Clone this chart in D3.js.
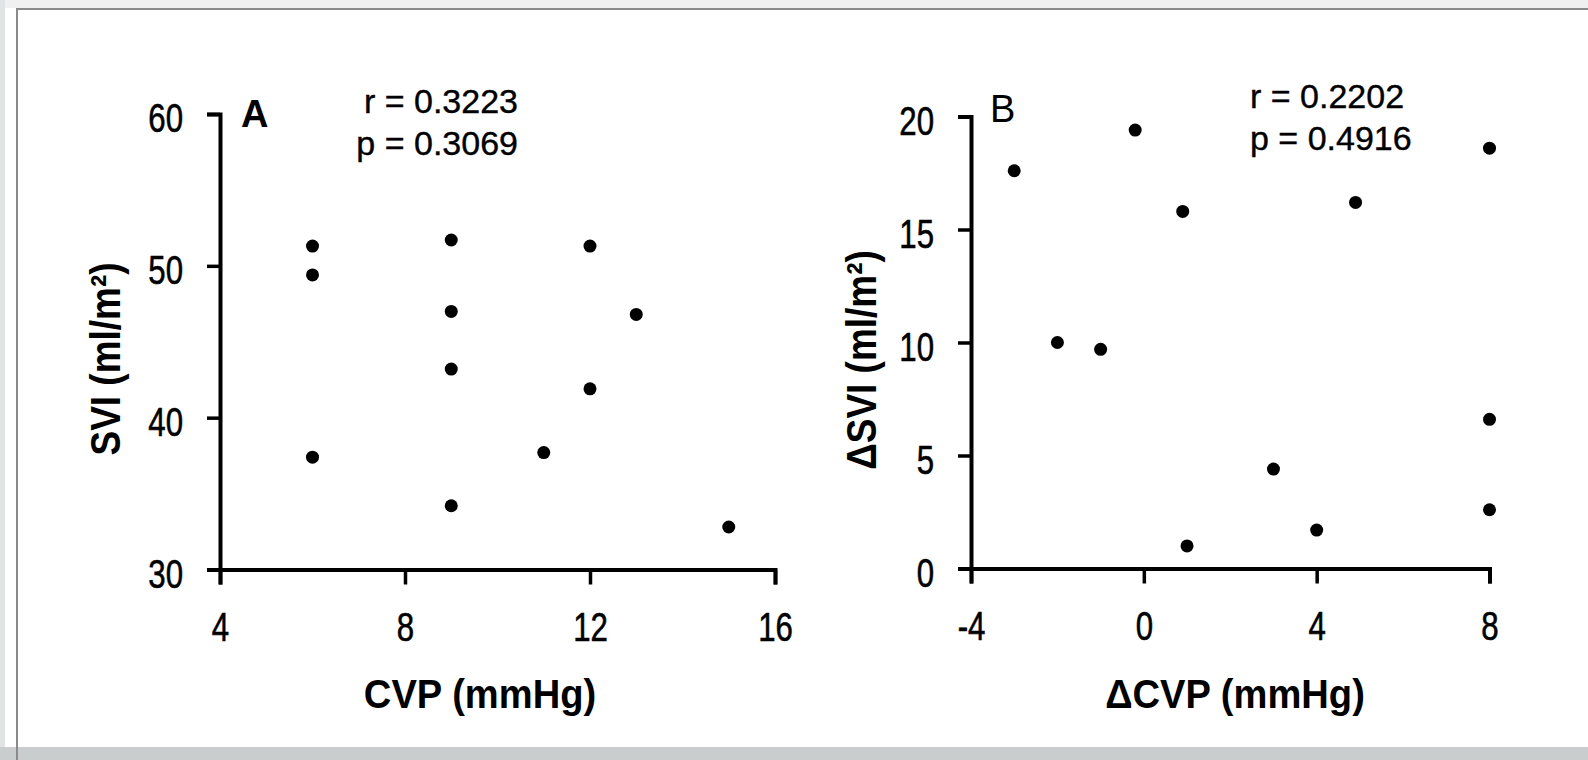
<!DOCTYPE html>
<html>
<head>
<meta charset="utf-8">
<script src="https://cdn.jsdelivr.net/npm/d3@7"></script>
<style>
  body { margin: 0; background: #fff; }
  svg { display: block; }
  text { font-family: "Liberation Sans", Arial, sans-serif; fill: #000; }
</style>
</head>
<body>
<svg id="chart" width="1588" height="760"></svg>
<script>
// panel A: CVP vs SVI
const cvpA = [6, 6, 6, 9, 9, 9, 9, 11, 12, 12, 13, 15]
const sviA = [51.3, 49.4, 37.4, 51.7, 47.0, 43.2, 34.2, 37.7, 51.3, 41.9, 46.8, 32.8]
const ticksAx = [4, 8, 12, 16]
const ticksAy = [30, 40, 50, 60]
const statsA = ["r = 0.3223", "p = 0.3069"]

// panel B: change in CVP vs change in SVI
const dCvpB = [-3, -0.2, 8, 0.9, 4.9, -2, -1, 8, 3, 4, 1, 8]
const dSviB = [17.6, 19.4, 18.6, 15.8, 16.2, 10.0, 9.7, 6.6, 4.4, 1.7, 1.0, 2.6]
const ticksBx = [-4, 0, 4, 8]
const ticksBy = [0, 5, 10, 15, 20]
const statsB = ["r = 0.2202", "p = 0.4916"]

const svg = d3.select("#chart")

// page frame (grey strips + border line)
svg.append("rect").attr("width", 1588).attr("height", 760).attr("fill", "#fff")
svg.append("rect").attr("width", 1588).attr("height", 8).attr("fill", "#f0f0f0")
svg.append("rect").attr("width", 5).attr("height", 760).attr("fill", "#e1e4e6")
svg.append("rect").attr("y", 747).attr("width", 1588).attr("height", 13).attr("fill", "#c9cdcd")
svg.append("rect").attr("x", 16).attr("y", 8).attr("width", 1572).attr("height", 2).attr("fill", "#8a8a8a")
svg.append("rect").attr("x", 16).attr("y", 8).attr("width", 2).attr("height", 752).attr("fill", "#8a8a8a")

const squeeze = 0.78  // tick labels are a narrow face

function drawPanel(p) {
  const g = svg.append("g")
  const x = d3.scaleLinear().domain(p.xDomain).range([p.left, p.right])
  const y = d3.scaleLinear().domain(p.yDomain).range([p.bottom, p.top])

  const xAxis = g.append("g")
    .attr("transform", `translate(0,${p.bottom})`)
    .call(d3.axisBottom(x).tickValues(p.xTicks).tickSize(15).tickSizeOuter(15)
      .tickFormat(d => String(d)))
  const yAxis = g.append("g")
    .attr("transform", `translate(${p.left},0)`)
    .call(d3.axisLeft(y).tickValues(p.yTicks).tickSize(13).tickSizeOuter(13)
      .tickFormat(d => String(d)))

  g.selectAll(".domain").attr("stroke", "#000").attr("stroke-width", 4).attr("fill", "none")
  g.selectAll(".tick line").attr("stroke", "#000").attr("stroke-width", 3.5)
  g.selectAll(".tick text").attr("font-size", 40).attr("fill", "#000")
    .attr("font-family", "'Liberation Sans', Arial, sans-serif")
    .attr("stroke", "#000").attr("stroke-width", 0.6)
    .attr("transform", `scale(${squeeze},1)`)
  xAxis.selectAll(".tick text").attr("y", 72).attr("dy", 0)
  yAxis.selectAll(".tick text").attr("x", -37 / squeeze).attr("dy", "0.44em")

  g.selectAll("circle.dot")
    .data(d3.zip(p.xs, p.ys))
    .enter()
    .append("circle")
    .attr("class", "dot")
    .attr("cx", d => x(d[0]))
    .attr("cy", d => y(d[1]))
    .attr("r", 6.5)
    .attr("fill", "#000")

  // panel letter
  g.append("text").attr("x", p.letterX).attr("y", p.letterY)
    .attr("font-size", 38).attr("font-weight", p.letterWeight).text(p.letter)

  // r / p
  g.selectAll("text.stat")
    .data(p.stats)
    .enter()
    .append("text")
    .attr("class", "stat")
    .attr("x", p.statX)
    .attr("y", (d, i) => p.statY + i * 42)
    .attr("text-anchor", p.statAnchor)
    .attr("font-size", 34)
    .attr("stroke", "#000").attr("stroke-width", 0.4)
    .text(d => d)

  // axis titles (narrowish bold)
  g.append("text")
    .attr("transform", `translate(${p.xTitleX},708) scale(0.93,1)`)
    .attr("text-anchor", "middle").attr("font-size", 41).attr("font-weight", "bold")
    .text(p.xTitle)
  g.append("text")
    .attr("transform", `translate(${p.yTitleX},${p.yTitleY}) rotate(-90) scale(0.88,1)`)
    .attr("text-anchor", "middle").attr("font-size", 42).attr("font-weight", "bold")
    .text(p.yTitle)
}

drawPanel({
  xs: cvpA, ys: sviA, xDomain: [4, 16], yDomain: [30, 60],
  xTicks: ticksAx, yTicks: ticksAy,
  left: 220, right: 775, top: 114, bottom: 569.5,
  letter: "A", letterX: 241, letterY: 127, letterWeight: "bold",
  stats: statsA, statX: 518, statY: 113, statAnchor: "end",
  xTitle: "CVP (mmHg)", xTitleX: 480,
  yTitle: "SVI (ml/m²)", yTitleX: 120, yTitleY: 359
})

drawPanel({
  xs: dCvpB, ys: dSviB, xDomain: [-4, 8], yDomain: [0, 20],
  xTicks: ticksBx, yTicks: ticksBy,
  left: 971, right: 1489.5, top: 116.5, bottom: 568.5,
  letter: "B", letterX: 990, letterY: 122, letterWeight: "normal",
  stats: statsB, statX: 1250, statY: 108, statAnchor: "start",
  xTitle: "ΔCVP (mmHg)", xTitleX: 1235,
  yTitle: "ΔSVI (ml/m²)", yTitleX: 876, yTitleY: 360
})
</script>
</body>
</html>
